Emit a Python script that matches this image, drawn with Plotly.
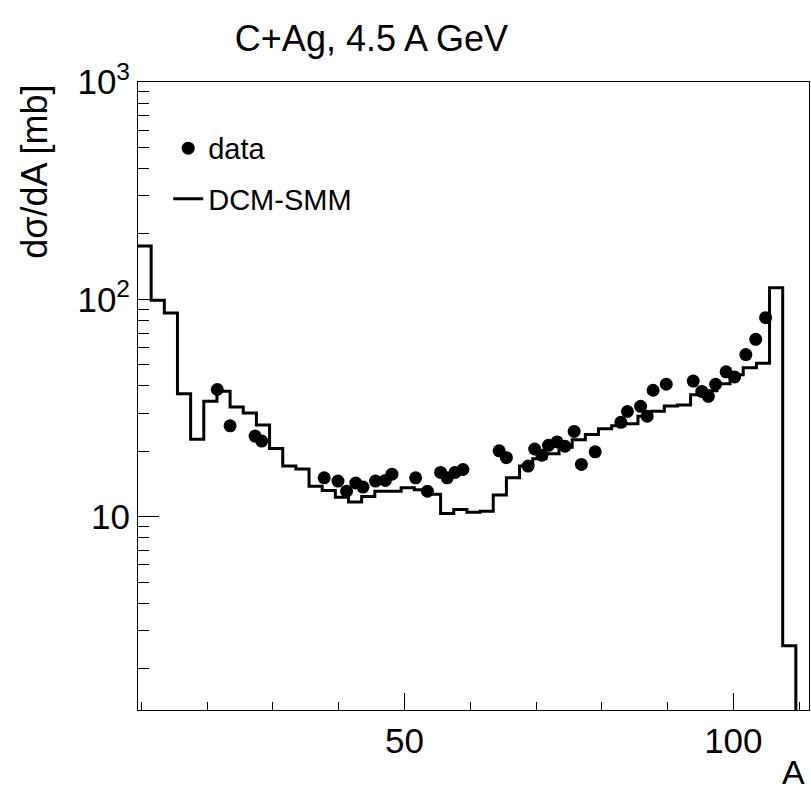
import plotly.graph_objects as go

# DCM-SMM histogram: bin left edges (width 2) and contents [mb]
bin_width = 2.0
bin_lefts = [9.5 + 2 * i for i in range(51)]
model_vals = [176, 99, 86.5, 36.8, 22.7, 34.0, 37.8, 32.0, 30.0, 26.4,
              20.6, 17.1, 16.6, 13.8, 13.2, 12.3, 11.7, 12.4, 13.1, 13.1,
              13.6, 13.3, 12.7, 10.35, 10.8, 10.5, 10.6, 12.6, 15.1, 17.1,
              18.5, 19.5, 20.9, 22.6, 23.9, 25.4, 26.2, 26.8, 29.0, 30.6,
              32.3, 32.7, 36.4, 38.0, 40.9, 45.0, 48.5, 50.8, 113, 2.55, 0.5]

# measured data points
data_A = [21.55, 23.5, 27.3, 28.3, 37.8, 39.9, 41.2, 42.6, 43.7, 45.6,
          47.1, 48.1, 51.7, 53.5, 55.5, 56.5, 57.7, 58.9, 64.4, 65.5,
          68.8, 69.8, 70.9, 71.9, 73.2, 74.4, 75.8, 76.9, 79.0, 82.9,
          83.9, 85.9, 86.9, 87.8, 89.8, 93.9, 95.2, 96.2, 97.3, 98.9,
          100.2, 101.9, 103.4, 104.9]
data_vals = [38.5, 26.2, 23.5, 22.3, 15.1, 14.6, 13.1, 14.3, 13.7, 14.6,
             14.7, 15.7, 15.1, 13.1, 16.0, 15.1, 16.0, 16.5, 20.1, 18.7,
             17.1, 20.5, 19.2, 21.3, 22.1, 21.1, 24.7, 17.4, 19.9, 27.2,
             30.5, 32.2, 29.0, 38.2, 40.7, 42.1, 37.7, 35.8, 40.7, 46.4,
             44.0, 55.7, 65.5, 82.4]

title_text = "C+Ag, 4.5 A GeV"
y_title = "dσ/dA [mb]"
x_title = "A"
x_major = [50, 100]
x_minor = [10, 20, 30, 40, 60, 70, 80, 90, 110]
y_major = [10, 100, 1000]
y_major_text = ["10", "10<sup>2</sup>", "10<sup>3</sup>"]
y_minor = [m * d for d in (1, 10, 100) for m in range(2, 10)]

FONT = "Liberation Sans, Arial, Helvetica, sans-serif"

step_x = bin_lefts + [bin_lefts[-1] + bin_width]
step_y = model_vals + [model_vals[-1]]

fig = go.Figure()
fig.add_trace(go.Scatter(
    x=data_A, y=data_vals, mode="markers", name="data",
    marker=dict(color="black", size=13, symbol="circle"),
    legendgroup="a",
))
fig.add_trace(go.Scatter(
    x=step_x, y=step_y, mode="lines", name="DCM-SMM",
    line=dict(color="black", width=3, shape="hv"),
    legendgroup="b",
))

fig.update_layout(
    width=811, height=791,
    margin=dict(l=138, r=2, t=82, b=81),
    paper_bgcolor="white", plot_bgcolor="white",
    font=dict(family=FONT, color="black"),
    title=dict(text=title_text, x=0.458, xanchor="center", y=0.951, yanchor="middle",
               font=dict(size=36, family=FONT, color="black")),
    showlegend=True,
    legend=dict(x=0.045, y=0.935, xanchor="left", yanchor="top",
                bgcolor="rgba(0,0,0,0)", borderwidth=0,
                font=dict(size=29, family=FONT, color="black"),
                tracegroupgap=10, itemwidth=30),
    xaxis=dict(range=[9.5, 111.5], showgrid=False, zeroline=False,
               showline=True, linecolor="black", linewidth=1, mirror=True,
               tickmode="array", tickvals=x_major, ticktext=[str(v) for v in x_major],
               ticks="inside", ticklen=17, tickcolor="black", tickwidth=1,
               tickfont=dict(size=35, family=FONT, color="black"),
               minor=dict(tickmode="array", tickvals=x_minor, ticks="inside",
                          ticklen=8, tickcolor="black", tickwidth=1, showgrid=False)),
    yaxis=dict(type="log", range=[0.111, 3.0], showgrid=False, zeroline=False,
               showline=True, linecolor="black", linewidth=1, mirror=True,
               tickmode="array", tickvals=y_major, ticktext=y_major_text,
               ticks="inside", ticklen=21, tickcolor="black", tickwidth=1,
               tickfont=dict(size=35, family=FONT, color="black"),
               minor=dict(tickmode="array", tickvals=y_minor, ticks="inside",
                          ticklen=11, tickcolor="black", tickwidth=1, showgrid=False)),
    annotations=[
        dict(text=y_title, xref="paper", yref="paper", x=-0.1535, y=0.857,
             xanchor="center", yanchor="middle", textangle=-90, showarrow=False,
             font=dict(size=36, family=FONT, color="black")),
        dict(text=x_title, xref="paper", yref="paper", x=0.997, y=-0.099,
             xanchor="right", yanchor="middle", showarrow=False,
             font=dict(size=34, family=FONT, color="black")),
    ],
)

fig.write_html("out.html")
